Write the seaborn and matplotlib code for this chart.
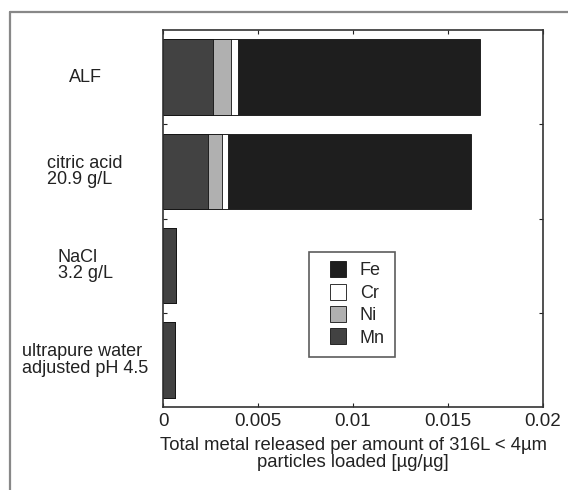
import matplotlib
matplotlib.use("Agg")
import matplotlib.pyplot as plt
import seaborn as sns
import pandas as pd
from matplotlib.lines import Line2D
import matplotlib.transforms as mtransforms

# data (ug/ug)
media = ["ALF", "citric acid\n20.9 g/L", "NaCl\n3.2 g/L", "ultrapure water\nadjusted pH 4.5"]
mn = [0.00264, 0.00238, 0.00070, 0.00064]
ni = [0.00095, 0.00073, 0.0, 0.0]
cr = [0.00037, 0.00032, 0.0, 0.0]
fe = [0.01271, 0.01277, 0.0, 0.0]

metals = ["Fe", "Cr", "Ni", "Mn"]
colors = {"Fe": "#1e1e1e", "Cr": "#ffffff", "Ni": "#b0b0b0", "Mn": "#424242"}

df = pd.DataFrame({"medium": media, "Mn": mn, "Ni": ni, "Cr": cr, "Fe": fe})
# cumulative ends for the stacked bars (Mn at the base)
df["cum_Mn"] = df["Mn"]
df["cum_Ni"] = df["cum_Mn"] + df["Ni"]
df["cum_Cr"] = df["cum_Ni"] + df["Cr"]
df["cum_Fe"] = df["cum_Cr"] + df["Fe"]

sns.set_style("white")
plt.rcParams["font.family"] = ["Liberation Sans", "DejaVu Sans"]

fig = plt.figure(figsize=(5.68, 4.90), dpi=100)
ax = fig.add_axes([0.287, 0.169, 0.669, 0.770])

for m in metals:
    sns.barplot(data=df, y="medium", x="cum_" + m, orient="h", color=colors[m],
                width=0.8, edgecolor="#111111", linewidth=0.6, saturation=1,
                errorbar=None, ax=ax)

ax.set_xlim(0, 0.02)
ax.set_ylim(3.5, -0.5)
ax.set_xticks([0, 0.005, 0.01, 0.015, 0.02])
ax.set_xticklabels(["0", "0.005", "0.01", "0.015", "0.02"], fontsize=13.5)
ax.set_yticks([0.5, 1.5, 2.5])
ax.set_yticklabels([])
ax.tick_params(direction="in", length=3, width=0.8, top=True, right=True,
               bottom=True, left=True, colors="#222222", pad=4)
ax.set_ylabel("")
ax.set_xlabel("Total metal released per amount of 316L < 4\u00b5m\nparticles loaded [\u00b5g/\u00b5g]",
              fontsize=13.3, labelpad=5, color="#222222", linespacing=1.05)
for s in ax.spines.values():
    s.set_color("#333333")
    s.set_linewidth(1.2)

# category labels centered left of the axes
trans = mtransforms.blended_transform_factory(fig.transFigure, ax.transData)
for i, lab in enumerate(media):
    ax.text(85 / 568, i, lab, transform=trans, ha="center", va="center",
            multialignment="left", fontsize=13, linespacing=0.95, color="#222222")

handles = [Line2D([], [], marker="s", linestyle="none", markersize=11.5,
                  markerfacecolor=colors[m], markeredgecolor="#111111",
                  markeredgewidth=0.6, label=m) for m in metals]
leg = ax.legend(handles=handles, loc="upper left", bbox_to_anchor=(0.385, 0.41),
                fontsize=13, frameon=True, fancybox=False, edgecolor="#333333",
                handlelength=2.05, handletextpad=0.2,
                labelspacing=0.3, borderpad=0.55, borderaxespad=0)
leg.get_frame().set_linewidth(1.2)

# outer figure frame (left and top)
fig.add_artist(Line2D([9.5 / 568, 9.5 / 568], [0, 1 - 12 / 490], transform=fig.transFigure,
                      color="#888888", linewidth=1.6))
fig.add_artist(Line2D([9.5 / 568, 1], [1 - 12 / 490, 1 - 12 / 490], transform=fig.transFigure,
                      color="#888888", linewidth=1.6))

fig.savefig("out.png", dpi=100)
